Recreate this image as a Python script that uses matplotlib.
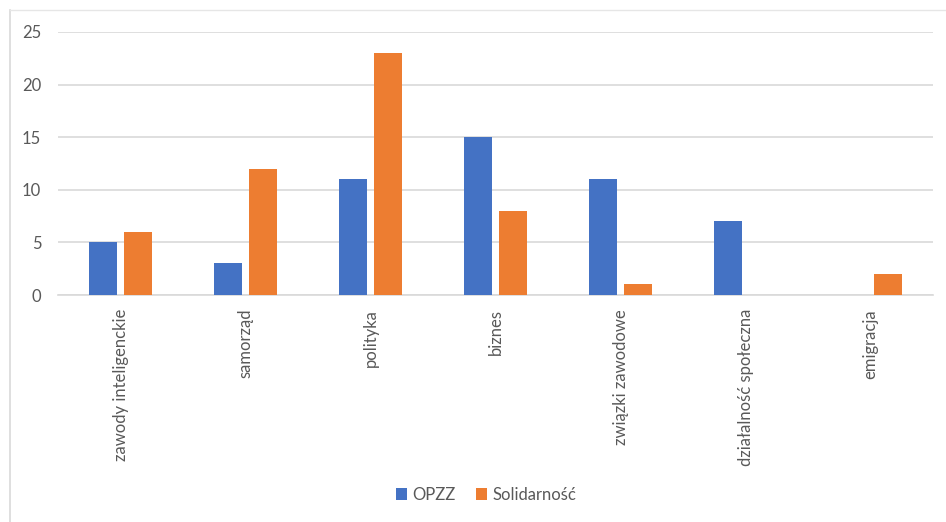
import matplotlib
matplotlib.use("Agg")
import matplotlib.pyplot as plt
from matplotlib.lines import Line2D
import numpy as np

categories = ["zawody inteligenckie", "samorząd", "polityka", "biznes",
              "związki zawodowe", "działalność społeczna", "emigracja"]
opzz = [5, 3, 11, 15, 11, 7, 0]
solidarnosc = [6, 12, 23, 8, 1, 0, 2]
series_names = ["OPZZ", "Solidarność"]
yticks = [0, 5, 10, 15, 20, 25]

W, H = 946, 522
fig = plt.figure(figsize=(W / 100, H / 100), dpi=100)
plt.rcParams['font.family'] = ['Lato', 'DejaVu Sans']
text_color = "#595959"

ax = fig.add_axes([58 / W, 1 - 295 / H, (933 - 58) / W, (295 - 32) / H])
x = np.arange(len(categories))
bw = 0.224
off = 0.14
ax.bar(x - off, opzz, bw, color="#4472C4", label=series_names[0], zorder=3)
ax.bar(x + off, solidarnosc, bw, color="#ED7D31", label=series_names[1], zorder=3)

ax.set_xlim(-0.5, len(categories) - 0.5)
ax.set_ylim(0, 25)
ax.set_yticks(yticks)
ax.yaxis.grid(True, color="#d9d9d9", linewidth=1.2, zorder=0)
ax.set_axisbelow(True)
for s in ["top", "right", "left"]:
    ax.spines[s].set_visible(False)
ax.spines["bottom"].set_color("#d9d9d9")
ax.spines["bottom"].set_linewidth(1.2)
ax.tick_params(axis="both", length=0, colors=text_color, labelsize=12)
ax.tick_params(axis="y", pad=12)
ax.tick_params(axis="x", pad=10)
ax.set_xticks(x)
ax.set_xticklabels(categories, rotation=90, va="top", ha="center")

leg = fig.legend(loc="center", bbox_to_anchor=(486 / W, 1 - 495 / H), ncol=2,
                 frameon=False, fontsize=12, handlelength=0.7, handleheight=0.7,
                 columnspacing=1.2, handletextpad=0.3)
for t in leg.get_texts():
    t.set_color(text_color)

# chart frame (light gray, partially visible)
fig.add_artist(Line2D([10 / W, 10 / W], [0, 1 - 10 / H], transform=fig.transFigure,
                      color="#d9d9d9", linewidth=1.2))
fig.add_artist(Line2D([10 / W, 1], [1 - 10 / H, 1 - 10 / H], transform=fig.transFigure,
                      color="#e6e6e6", linewidth=1.0))

fig.savefig("out.png", dpi=100)
